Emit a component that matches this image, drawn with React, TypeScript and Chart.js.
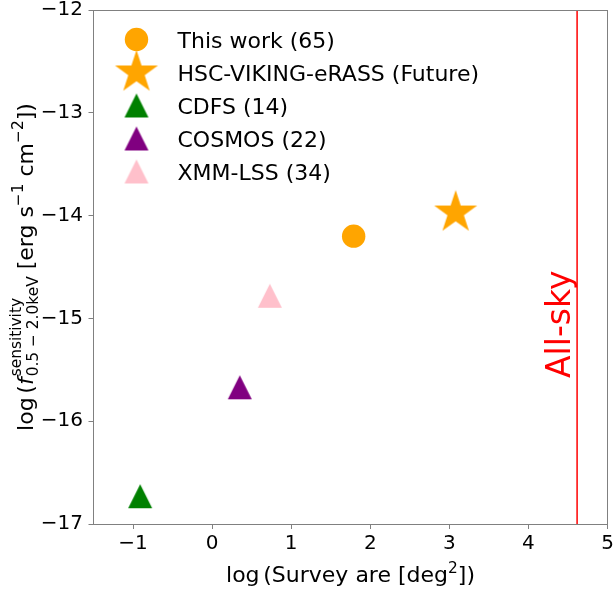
import React, { useEffect, useRef } from 'react';
import { Chart, registerables } from 'chart.js';

Chart.register(...registerables);

// ---- data ----
const surveyNames = ['This work (65)', 'HSC-VIKING-eRASS (Future)', 'CDFS (14)', 'COSMOS (22)', 'XMM-LSS (34)'];
const logSurveyArea = [1.79, 3.08, -0.91, 0.35, 0.73];
const logSensitivity = [-14.2, -13.97, -16.73, -15.67, -14.78];
const surveyColors = ['#ffa500', '#ffa500', '#008000', '#800080', '#ffc0cb'];
const surveyMarkers = ['circle', 'star', 'triangle', 'triangle', 'triangle'];
const allSkyLogArea = 4.6155; // log10(41253 deg^2)
const allSkyLabel = 'All-sky';
const allSkyLabelStart = -15.58;
const xTickValues = [-1, 0, 1, 2, 3, 4, 5];
const yTickValues = [-17, -16, -15, -14, -13, -12];
const xRange = [-1.5, 5];
const yRange = [-17, -12];

const FONT = 'DejaVu Sans';
const AXIS_GRAY = '#808080';

// ---- marker sprites ----
function triangleSprite(color: string, size: number): HTMLCanvasElement {
  const c = document.createElement('canvas');
  c.width = size + 2;
  c.height = size + 2;
  const g = c.getContext('2d')!;
  const h = size / 2;
  const cx = c.width / 2;
  const cy = c.height / 2;
  g.fillStyle = color;
  g.beginPath();
  g.moveTo(cx, cy - h);
  g.lineTo(cx - h, cy + h);
  g.lineTo(cx + h, cy + h);
  g.closePath();
  g.fill();
  return c;
}

function starSprite(color: string, outer: number): HTMLCanvasElement {
  const c = document.createElement('canvas');
  const s = Math.ceil(outer) * 2 + 2;
  c.width = s;
  c.height = s;
  const g = c.getContext('2d')!;
  const inner = outer * 0.381966;
  const cx = s / 2;
  const cy = s / 2;
  g.fillStyle = color;
  g.beginPath();
  for (let i = 0; i < 10; i++) {
    const a = -Math.PI / 2 + (i * Math.PI) / 5;
    const r = i % 2 === 0 ? outer : inner;
    const px = cx + r * Math.cos(a);
    const py = cy + r * Math.sin(a);
    if (i === 0) g.moveTo(px, py);
    else g.lineTo(px, py);
  }
  g.closePath();
  g.fill();
  return c;
}

const CIRCLE_R = 11.7;
const TRIANGLE_SIZE = 24;
const STAR_R = 22.6;

function markerFor(kind: string, color: string): any {
  if (kind === 'star') return starSprite(color, STAR_R);
  if (kind === 'triangle') return triangleSprite(color, TRIANGLE_SIZE);
  return 'circle';
}

function fmtTick(v: number): string {
  return v < 0 ? '\u2212' + Math.abs(v) : String(v);
}

// ---- rich text (super/subscripts) ----
type Run =
  | { t: string; size: number; italic?: boolean; dy?: number; gap?: number }
  | { sup: string; sub: string; size: number; supDy: number; subDy: number; gap?: number };

function fontStr(size: number, italic?: boolean) {
  return `${italic ? 'italic ' : ''}${size}px "${FONT}"`;
}

function runWidth(ctx: CanvasRenderingContext2D, r: Run): number {
  if ('t' in r) {
    ctx.font = fontStr(r.size, r.italic);
    return (r.gap || 0) + ctx.measureText(r.t).width;
  }
  ctx.font = fontStr(r.size);
  return (r.gap || 0) + Math.max(ctx.measureText(r.sup).width, ctx.measureText(r.sub).width);
}

function drawRuns(ctx: CanvasRenderingContext2D, runs: Run[], startU: number) {
  let u = startU;
  ctx.textAlign = 'left';
  ctx.textBaseline = 'alphabetic';
  for (const r of runs) {
    u += r.gap || 0;
    if ('t' in r) {
      ctx.font = fontStr(r.size, r.italic);
      ctx.fillText(r.t, u, r.dy || 0);
      u += ctx.measureText(r.t).width;
    } else {
      ctx.font = fontStr(r.size);
      ctx.fillText(r.sup, u, r.supDy);
      ctx.fillText(r.sub, u, r.subDy);
      u += Math.max(ctx.measureText(r.sup).width, ctx.measureText(r.sub).width);
    }
  }
}

const LABEL_F = 22;
const SCRIPT_F = 15.4;

const yTitleRuns: Run[] = [
  { t: 'log', size: LABEL_F },
  { t: '(', size: LABEL_F, gap: 3.7 },
  { t: 'f', size: LABEL_F, italic: true },
  { sup: 'sensitivity', sub: '0.5 \u2212 2.0keV', size: SCRIPT_F, supDy: -12.5, subDy: 5, gap: 1 },
  { t: ' [erg s', size: LABEL_F },
  { t: '\u22121', size: SCRIPT_F, dy: -10 },
  { t: ' cm', size: LABEL_F },
  { t: '\u22122', size: SCRIPT_F, dy: -10 },
  { t: '])', size: LABEL_F },
];

const xTitleRuns: Run[] = [
  { t: 'log', size: LABEL_F },
  { t: '(Survey are [deg', size: LABEL_F, gap: 3.7 },
  { t: '2', size: SCRIPT_F, dy: -9 },
  { t: '])', size: LABEL_F },
];

const decorations = {
  id: 'decorations',
  afterDraw(chart: any) {
    const { ctx, chartArea, scales } = chart;
    const { left, right, top, bottom } = chartArea;
    ctx.save();

    // axes frame
    ctx.strokeStyle = AXIS_GRAY;
    ctx.lineWidth = 1;
    ctx.strokeRect(Math.floor(left) + 0.5, Math.floor(top) + 0.5, Math.round(right - left), Math.round(bottom - top));

    // vertical label beside the all-sky line
    const lx = scales.x.getPixelForValue(allSkyLogArea) - 6.7;
    const ly = scales.y.getPixelForValue(allSkyLabelStart);
    ctx.save();
    ctx.translate(lx, ly);
    ctx.rotate(-Math.PI / 2);
    ctx.fillStyle = '#ff0000';
    ctx.font = fontStr(33);
    ctx.textAlign = 'left';
    ctx.textBaseline = 'alphabetic';
    ctx.fillText(allSkyLabel, 0, 0);
    ctx.restore();

    // legend
    const legendX = left + 43;
    const legendY0 = top + 29.5;
    const rowH = 33;
    const textX = left + 84;
    chart.data.datasets.forEach((ds: any, i: number) => {
      if (i >= surveyNames.length) return;
      const cy = legendY0 + i * rowH;
      const ps = ds.pointStyle;
      if (ps === 'circle') {
        ctx.fillStyle = ds.backgroundColor;
        ctx.beginPath();
        ctx.arc(legendX, cy, CIRCLE_R, 0, Math.PI * 2);
        ctx.fill();
      } else {
        ctx.drawImage(ps, legendX - ps.width / 2, cy - ps.height / 2);
      }
      ctx.fillStyle = '#000';
      ctx.font = fontStr(22);
      ctx.textAlign = 'left';
      ctx.textBaseline = 'alphabetic';
      ctx.fillText(ds.label, textX, cy + 8);
    });

    // axis titles
    ctx.fillStyle = '#000';
    const xw = xTitleRuns.reduce((s, r) => s + runWidth(ctx, r), 0);
    ctx.save();
    ctx.translate((left + right) / 2, 581.7);
    drawRuns(ctx, xTitleRuns, -xw / 2);
    ctx.restore();

    const yw = yTitleRuns.reduce((s, r) => s + runWidth(ctx, r), 0);
    ctx.save();
    ctx.translate(33, (top + bottom) / 2);
    ctx.rotate(-Math.PI / 2);
    drawRuns(ctx, yTitleRuns, -yw / 2);
    ctx.restore();

    ctx.restore();
  },
};

export default function App() {
  const ref = useRef<HTMLCanvasElement>(null);

  useEffect(() => {
    const canvas = ref.current!;
    const datasets: any[] = surveyNames.map((name, i) => {
      const style = markerFor(surveyMarkers[i], surveyColors[i]);
      return {
        label: name,
        data: [{ x: logSurveyArea[i], y: logSensitivity[i] }],
        pointStyle: style,
        pointRadius: style === 'circle' ? CIRCLE_R : 12,
        pointHoverRadius: style === 'circle' ? CIRCLE_R : 12,
        backgroundColor: surveyColors[i],
        borderColor: surveyColors[i],
        pointBorderWidth: 0,
      };
    });
    datasets.push({
      label: allSkyLabel,
      type: 'line',
      data: [
        { x: allSkyLogArea, y: yRange[0] },
        { x: allSkyLogArea, y: yRange[1] },
      ],
      borderColor: '#ff0000',
      borderWidth: 1.5,
      pointRadius: 0,
      showLine: true,
      fill: false,
    });

    const chart = new Chart(canvas, {
      type: 'scatter',
      data: { datasets },
      options: {
        responsive: false,
        animation: false,
        events: [],
        layout: { autoPadding: false, padding: { top: 10, right: 6.5, left: 0, bottom: 0 } },
        plugins: {
          legend: { display: false },
          tooltip: { enabled: false },
        },
        scales: {
          x: {
            type: 'linear',
            min: xRange[0],
            max: xRange[1],
            afterBuildTicks: (s: any) => {
              s.ticks = xTickValues.map((v) => ({ value: v }));
            },
            afterFit: (s: any) => {
              s.height = 65;
              s.paddingLeft = 0;
              s.paddingRight = 0;
              s.paddingTop = 0;
              s.paddingBottom = 0;
            },
            ticks: {
              font: { family: FONT, size: 20 },
              color: '#000',
              padding: 3,
              maxRotation: 0,
              autoSkip: false,
              callback: (v: any) => fmtTick(Number(v)),
            },
            grid: { drawOnChartArea: false, drawTicks: true, tickLength: 5, color: AXIS_GRAY },
            border: { display: false },
          },
          y: {
            type: 'linear',
            min: yRange[0],
            max: yRange[1],
            afterBuildTicks: (s: any) => {
              s.ticks = yTickValues.map((v) => ({ value: v }));
            },
            afterFit: (s: any) => {
              s.width = 93.5;
              s.paddingLeft = 0;
              s.paddingRight = 0;
              s.paddingTop = 0;
              s.paddingBottom = 0;
            },
            ticks: {
              font: { family: FONT, size: 20 },
              color: '#000',
              padding: 5.5,
              autoSkip: false,
              callback: (v: any) => fmtTick(Number(v)),
            },
            grid: { drawOnChartArea: false, drawTicks: true, tickLength: 5, color: AXIS_GRAY },
            border: { display: false },
          },
        },
      } as any,
      plugins: [decorations],
    });
    return () => chart.destroy();
  }, []);

  return (
    <div style={{ position: 'absolute', left: 0, top: 0, width: 614, height: 589 }}>
      <canvas ref={ref} width={614} height={589} style={{ display: 'block', width: 614, height: 589 }} />
    </div>
  );
}
